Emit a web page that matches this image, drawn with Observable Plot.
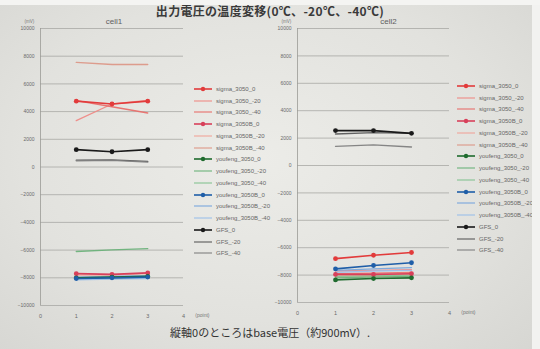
<!DOCTYPE html>
<html>
<head>
<meta charset="utf-8">
<script src="https://cdn.jsdelivr.net/npm/d3@7"></script>
<script src="https://cdn.jsdelivr.net/npm/@observablehq/plot@0.6"></script>
<style>
  html, body { margin: 0; padding: 0; }
  body {
    width: 540px; height: 349px; overflow: hidden; position: relative;
    font-family: "Noto Sans CJK JP", "Noto Sans", sans-serif;
    background: radial-gradient(ellipse at 48% 45%, #ecece8 0%, #e2e2de 60%, #d6d6d2 100%);
  }
  .frame { position: absolute; left: 0; top: 0; width: 540px; height: 349px;
    box-shadow: inset 0 5px 0 #f4f4f2, inset -8px 0 0 #f2f2f0; pointer-events: none; }
  #title { position: absolute; top: 2px; left: 0; width: 540px; text-align: center;
    font-size: 12px; font-weight: 700; color: #3a3a3a; letter-spacing: 0.3px; }
  #caption { position: absolute; top: 324px; left: 0; width: 540px; text-align: center;
    font-size: 11px; color: #333; }
  .panel { position: absolute; top: 0; }
  .legend { position: absolute; font-family: "Liberation Sans", Arial, sans-serif;
    font-size: 6px; color: #666; }
  .legend .row { display: flex; align-items: center; height: 11.75px; white-space: nowrap; }
  .legend svg { margin-right: 3px; }
</style>
</head>
<body>
<div id="title"></div>
<div id="p1" class="panel" style="left:0px"></div>
<div id="p2" class="panel" style="left:257px"></div>
<div id="l1" class="legend" style="left:193px; top:83px"></div>
<div id="l2" class="legend" style="left:456px; top:80px"></div>
<div id="caption"></div>
<div class="frame"></div>
<script>
// Output voltage offset (mV) at measurement points 1-3, for three temperatures.
const titleText = "出力電圧の温度変移(0℃、-20℃、-40℃)";
const captionText = "縦軸0のところはbase電圧（約900mV）.";
const panelTitles = ["cell1", "cell2"];
const yTicks = [-10000, -8000, -6000, -4000, -2000, 0, 2000, 4000, 6000, 8000, 10000];
const xTicks = [0, 1, 2, 3, 4];
const points = [1, 2, 3];

const seriesNames = [
  "sigma_3050_0", "sigma_3050_-20", "sigma_3050_-40",
  "sigma_3050B_0", "sigma_3050B_-20", "sigma_3050B_-40",
  "youfeng_3050_0", "youfeng_3050_-20", "youfeng_3050_-40",
  "youfeng_3050B_0", "youfeng_3050B_-20", "youfeng_3050B_-40",
  "GFS_0", "GFS_-20", "GFS_-40"
];
const seriesColors = [
  "#e23b3b", "#ef8a86", "#e86f6c",
  "#d8405a", "#f0a49a", "#dc9888",
  "#1f6b2e", "#6cb27a", "#86c493",
  "#1f5ea8", "#78a6dc", "#9cc0ea",
  "#1a1a1a", "#5a5a5a", "#808080"
];
// series drawn with point markers (0℃)
const markedSeries = ["sigma_3050_0", "sigma_3050B_0", "youfeng_3050_0", "youfeng_3050B_0", "GFS_0"];

const cell1Values = [
  [4750, 4550, 4750],
  [3350, 4550, 4800],
  [4800, 4350, 3900],
  [-7700, -7750, -7650],
  [-7800, -7800, -7700],
  [7550, 7400, 7400],
  [-8000, -7950, -7900],
  [-6100, -5980, -5900],
  [-8100, -8050, -8000],
  [-8050, -8000, -7950],
  [-7950, -7900, -7850],
  [-8150, -8100, -8050],
  [1250, 1100, 1250],
  [500, 520, 400],
  [450, 480, 350]
];
const cell2Values = [
  [-6800, -6550, -6350],
  [-7700, -7650, -7600],
  [-7900, -7850, -7800],
  [-7950, -7950, -7900],
  [-8050, -8000, -7950],
  [-8150, -8100, -8100],
  [-8350, -8250, -8200],
  [-8200, -8150, -8100],
  [-8100, -8050, -8000],
  [-7550, -7300, -7100],
  [-7650, -7550, -7450],
  [-7800, -7700, -7650],
  [2550, 2550, 2350],
  [2300, 2400, 2350],
  [1400, 1500, 1350]
];

document.getElementById("title").textContent = titleText;
document.getElementById("caption").textContent = captionText;

function rowsFor(values) {
  return seriesNames.flatMap((name, i) =>
    points.map((p, j) => ({series: name, x: p, y: values[i][j]})));
}

function panel(values, title, opts) {
  const rows = rowsFor(values);
  const isMarked = d => markedSeries.includes(d.series);
  return Plot.plot({
    width: opts.width, height: 325,
    marginLeft: 40, marginRight: opts.marginRight, marginTop: opts.marginTop, marginBottom: opts.marginBottom,
    style: {background: "transparent", fontFamily: "Liberation Sans, Arial, sans-serif", fontSize: "5.5px", color: "#6a6a6a"},
    x: {domain: [0, 4], ticks: xTicks, tickSize: 0, tickPadding: 8, label: null, line: false},
    y: {domain: [-10000, 10000], ticks: yTicks, tickSize: 0, tickPadding: 6, label: null},
    color: {domain: seriesNames, range: seriesColors},
    marks: [
      Plot.gridY(yTicks, {stroke: "#a8a8a4", strokeOpacity: 1, strokeWidth: 0.8}),
      Plot.ruleX([0], {stroke: "#9a9a96", strokeWidth: 0.8}),
      Plot.axisX(xTicks, {tickSize: 0, tickPadding: 9, fontSize: 5.5, fill: "#6a6a6a"}),
      Plot.axisY(yTicks, {tickSize: 0, tickPadding: 6, fontSize: 5, fill: "#6a6a6a", tickFormat: d3.format("d")}),
      Plot.line(rows.filter(d => !isMarked(d)), {x: "x", y: "y", z: "series", stroke: "series", strokeWidth: 1.3, strokeOpacity: 0.95}),
      Plot.line(rows.filter(isMarked), {x: "x", y: "y", z: "series", stroke: "series", strokeWidth: 1.7}),
      Plot.dot(rows.filter(isMarked), {x: "x", y: "y", fill: "series", r: 2.4}),
      Plot.text([title], {frameAnchor: "top", dy: -10, fontSize: 8, fill: "#606060", dx: opts.titleDx}),
      Plot.text(["(mV)"], {frameAnchor: "top-left", dx: -16, dy: -9, fontSize: 4.5, fill: "#777"}),
      Plot.text(["(point)"], {frameAnchor: "bottom-right", dx: 26, dy: 11, fontSize: 5, fill: "#777"})
    ]
  });
}

document.getElementById("p1").append(panel(cell1Values, panelTitles[0],
  {width: 230, marginRight: 47, marginTop: 28, marginBottom: 20, titleDx: 2}));
document.getElementById("p2").append(panel(cell2Values, panelTitles[1],
  {width: 283, marginRight: 91, marginTop: 28, marginBottom: 23, titleDx: 15}));

function legend(el) {
  seriesNames.forEach((name, i) => {
    const row = document.createElement("div");
    row.className = "row";
    const marked = markedSeries.includes(name);
    const sw = d3.create("svg").attr("width", 20).attr("height", 6);
    sw.append("line").attr("x1", 1).attr("x2", 19).attr("y1", 3).attr("y2", 3)
      .attr("stroke", seriesColors[i]).attr("stroke-width", marked ? 1.6 : 1.1);
    if (marked) sw.append("circle").attr("cx", 10).attr("cy", 3).attr("r", 2.2).attr("fill", seriesColors[i]);
    row.append(sw.node());
    const t = document.createElement("span");
    t.textContent = name;
    row.append(t);
    el.append(row);
  });
}
legend(document.getElementById("l1"));
legend(document.getElementById("l2"));
</script>
</body>
</html>
